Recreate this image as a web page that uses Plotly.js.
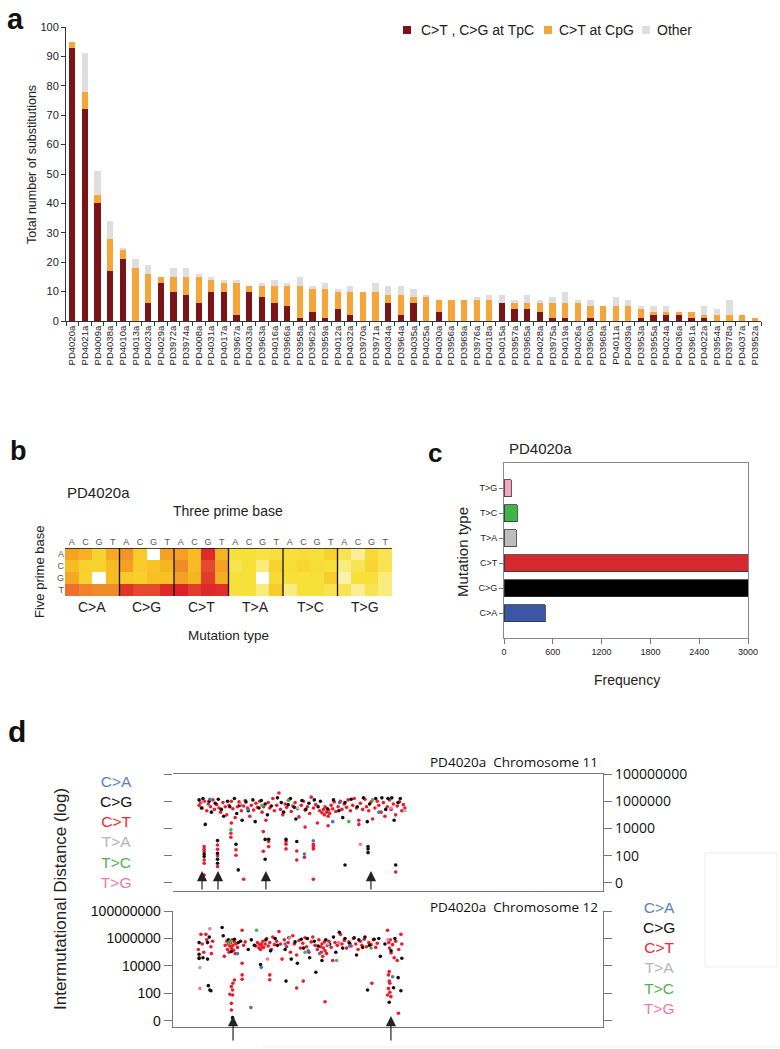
<!DOCTYPE html>
<html><head><meta charset="utf-8">
<script src="https://cdn.plot.ly/plotly-3.0.1.min.js"></script>
<style>html,body{margin:0;padding:0;background:#fff}#chart{width:780px;height:1049px}</style>
</head><body><div id="chart"></div>
<script>
// ---------- Panel a data ----------
const samples = ['PD4020a','PD4021a','PD4009a','PD4038a','PD4010a','PD4013a','PD4023a','PD4029a','PD3972a','PD3974a','PD4008a','PD4031a','PD4017a','PD3967a','PD4033a','PD3963a','PD4016a','PD3966a','PD3958a','PD3962a','PD3959a','PD4012a','PD4032a','PD3970a','PD3971a','PD4034a','PD3964a','PD4035a','PD4025a','PD4030a','PD3956a','PD3969a','PD3976a','PD4018a','PD4015a','PD3957a','PD3965a','PD4028a','PD3975a','PD4019a','PD4026a','PD3960a','PD3968a','PD4011a','PD4039a','PD3953a','PD3955a','PD4024a','PD4036a','PD3961a','PD4022a','PD3954a','PD3978a','PD4037a','PD3952a'];
const tpcCounts = [93,72,40,17,21,0,6,13,10,9,6,10,10,2,10,8,6,5,1,3,1,4,2,0,0,6,2,6,0,3,0,0,0,0,6,4,4,3,1,1,0,1,0,0,0,1,2,2,2,1,1,0,0,0,0];
const cpgCounts = [2,6,3,11,3,18,10,2,5,6,9,4,3,11,2,4,6,7,11,8,10,6,8,10,10,3,7,2,8,4,7,7,7,7,0,2,2,3,5,5,6,4,5,5,5,3,1,1,1,2,1,2,2,2,1];
const otherCounts = [0,13,8,6,1,3,3,0,3,3,1,1,1,1,0,1,2,1,3,1,2,1,2,0,3,3,3,3,1,0,0,0,1,2,3,1,3,1,2,4,1,2,0,3,2,1,2,2,0,0,3,2,5,0,0];
const seriesNames = ['C>T , C>G at TpC','C>T at CpG','Other'];

// ---------- Panel b data (rows: five prime base A,C,G,T; cols: 6 types x three prime A,C,G,T) ----------
const fivePrime = ['A','C','G','T'];
const threePrime = ['A','C','G','T'];
const mutTypes = ['C>A','C>G','C>T','T>A','T>C','T>G'];
const contextA = [0.58,0.5,0.3,0.55, 0.65,0.35,null,0.6, 0.6,0.45,0.97,0.48, 0.2,0.2,0.18,0.2, 0.2,0.22,0.2,0.3, 0.16,0.04,0.25,0.16];
const contextC = [0.45,0.32,0.3,0.45, 0.6,0.35,0.4,0.48, 0.68,0.45,0.88,0.6, 0.16,0.2,0.08,0.3, 0.22,0.27,0.22,0.2, 0.08,0.16,0.27,0.16];
const contextG = [0.55,0.3,null,0.45, 0.35,0.32,0.42,0.42, 0.6,0.48,0.92,0.52, 0.2,0.2,null,0.25, 0.2,0.2,0.2,0.33, 0.0,0.2,0.2,0.08];
const contextT = [0.78,0.72,0.68,0.68, 0.95,0.88,0.88,0.98, 1.0,0.92,0.98,0.96, 0.2,0.2,0.08,0.35, 0.07,0.2,0.2,0.16, 0.16,0.04,0.16,0.08];

// ---------- Panel c data ----------
const freqTypes = ['C>A','C>G','C>T','T>A','T>C','T>G'];
const freqValues = [505,3000,3000,148,164,90];
const typeColors = ['#3a56a5','#000000','#d42a2f','#bdbdbd','#3db54a','#f2a7c0'];

// ---------- Panel d data (x: position Mb, y: log10 intermutational distance) ----------
const dotColors = {'C>A':'#4a72bd','C>G':'#111111','C>T':'#ec1c2a','T>A':'#b0b0b0','T>C':'#4bae4f','T>G':'#ea7ca5'};
const legendColors = ['#5a7fc6','#111111','#ec2a30','#b5b5b5','#55b050','#ea7ca5'];

const chr11_CT_pos = [1,2,3,4.5,6,7,8.5,10,11,12.5,14,15,16.5,18,19,20.5,22,23,24.5,26,27,28.5,30,31,32.5,34,35,36.5,38,39,40.5,42,43,44.5,46,47,49,50,51.5,53,54,55.5,57,58,59.5,61,62,63.5,65,66,67.5,69,70,71.5,73,74,75.5,77,78,79.5,81,82,82.5,83,84,85,85.5,86,87,88,89,90,91.5,93,94,95.5,97,98,99.5,101,102,103.5,105,106,107.5,109,110,111.5,113,114,115.5,117,118,119.5,121,122,123.5,125,126,127.5,129,130,131.5,133,134,135,
 4.3,4.3,4.3,4.3,4.3,4.3,13,13,13,13,21.7,21.7,22,25,25,30,42.8,42.8,46.3,46.3,57.6,57.6,57.6,64.6,64.6,69.6,75.4,75.4,75.4,75.4,129,85,70,105];
const chr11_CT_dist = [5.7,5.9,5.5,6.0,5.3,5.8,5.6,6.1,5.4,5.75,5.5,5.2,5.9,5.6,5.0,5.7,6.0,5.45,4.8,5.6,5.95,5.3,5.65,6.05,5.5,4.9,5.7,5.35,5.85,5.55,6.0,5.2,5.6,4.6,5.9,5.5,6.2,5.3,5.7,6.6,5.4,5.0,5.8,5.55,6.1,5.25,5.65,5.9,5.45,4.85,5.7,6.0,5.35,5.6,5.1,6.3,5.5,5.75,4.4,5.3,5.15,5.4,5.0,5.6,5.2,4.9,5.35,5.1,5.7,5.45,5.95,5.25,5.6,6.0,5.4,5.8,5.55,6.1,5.3,5.7,6.2,5.5,4.6,5.85,5.4,6.15,5.6,5.3,5.95,4.7,5.5,6.0,5.7,5.2,5.9,4.9,5.6,6.1,5.4,5.8,5.0,5.65,5.95,5.3,5.75,5.5,
 2.67,2.48,2.3,1.69,1.45,0.59,2.79,2.48,1.99,1.2,3.65,3.36,4.4,2.43,2.03,0.27,3.77,2.33,3.04,2.67,3.04,2.84,2.5,2.35,1.69,1.89,2.84,2.67,2.5,0.27,0.81,4.2,4.1,4.3];
const chr11_CG_pos = [1,2.5,3.5,5,7.5,9,11.5,13.5,15.5,17,19.5,21,24,25.5,27.5,29,31.5,33,36,37.5,40,41.5,44,45.5,48,52,54.5,56,59,60.5,63,64,68,70.5,72.5,76,78.5,80,84.5,88.5,92,94.5,96,100,104,108,110.5,112,116,120,122.5,124,126.5,128,130.5,132,
 4.3,4.3,13,13,13,13,25,26.5,44,46.3,44,57.6,64.6,96,111,111,111,129];
const chr11_CG_dist = [6.1,5.5,6.2,4.3,6.0,5.2,5.85,6.15,5.4,4.9,6.0,5.6,6.2,5.1,5.7,4.6,5.95,5.3,6.1,4.5,5.5,6.05,5.8,5.0,5.65,6.25,5.9,5.2,5.75,6.2,5.55,4.7,6.05,5.4,5.85,6.1,5.6,6.0,5.45,6.1,5.3,4.8,5.9,6.15,5.6,6.25,4.5,5.8,6.2,6.25,5.4,6.2,6.25,4.6,5.9,6.2,
 2.13,1.94,3.11,2.18,1.74,1.45,2.84,0.96,1.74,3.21,3.2,3.2,3.04,1.32,2.67,2.5,2.23,1.32];
const chr11_CA_pos = [8,33,69.6,75.4,88,92.5,118];
const chr11_CA_dist = [6.15,5.4,2.13,3.1,4.5,5.9,5.2];
const chr11_TA_pos = [65,135];
const chr11_TA_dist = [5.5,5.3];
const chr11_TC_pos = [21.7,42,59,98.5,114];
const chr11_TC_dist = [3.9,5.7,6.05,4.5,6.1];
const chr11_TG_pos = [106,3,28,126];
const chr11_TG_dist = [2.84,5.95,5.8,5.5];

const chr12_CT_pos = [0.5,1,2.2,3,4,5.4,6,8.7,9.8,9,17.4,18,19,19.5,20,20.5,21,21.5,22,22.5,23,23.5,24,24.5,25,26,29,29,30,31,38,39,40,40.5,41,41.5,42,42.5,43,44,45,46,47,48,49,50,51.5,53,54,55,56.5,58,59,60.5,62,63,64.5,66,67,68.5,70,71,72.5,74,75,76.5,78,79,80,80.5,81,81.5,82,82.5,83,84,84.5,85.5,87,88,89.5,91,93,94,95.5,97,98.5,100,101.5,103,104.5,106,107,108.5,110,111.5,113,114.5,116,117,123.7,124.5,125,125.5,126,127,128,129,130,131,132.4,133,
 24,23,22,22.8,21,22.8,22,22,29,29,47,47,64.5,68.8,83,113.5,124.8,124.3,124.8,125.2,124.3,125.2,123.7,125.9,130.8];
const chr12_CT_dist = [5.2,4.6,6.3,5.6,5.0,6.3,5.9,5.4,5.8,4.9,4.7,5.5,5.8,5.2,5.6,5.0,5.45,5.7,5.3,5.9,5.5,5.15,5.75,4.9,5.6,5.35,6.6,4.2,5.5,5.75,5.45,5.7,5.3,5.55,5.2,5.6,5.4,5.8,5.35,5.6,6.0,5.45,5.7,5.2,6.1,5.55,5.8,6.5,5.6,4.5,5.9,5.4,5.7,5.0,6.2,5.6,4.8,5.85,5.3,5.65,6.05,5.4,5.0,5.75,6.1,5.5,5.2,5.9,5.4,5.0,5.6,4.7,5.3,5.75,5.1,4.9,5.5,5.8,5.35,4.4,5.7,5.5,6.3,5.6,5.85,5.3,5.75,5.45,6.0,5.6,5.2,5.8,5.5,5.95,5.4,5.7,5.55,5.9,5.35,5.65,6.6,5.7,5.3,5.9,4.95,5.55,4.6,5.8,4.4,5.2,6.3,5.6,
 2.98,2.74,2.5,2.25,1.94,1.89,1.28,0.8,3.35,3.03,3.35,3.0,2.4,2.9,1.4,2.74,3.59,3.35,2.9,2.74,2.37,2.08,1.89,1.77,0.56];
const chr12_CG_pos = [1,1,1,6.5,6.5,7.6,7,8,8.7,3.5,16,16.7,20,22,24,26.5,28,33,35,37,41,44.5,47.5,50.5,52,57.6,57,59.5,61,63.5,65,67.5,69,71.5,73,76,77,78.5,81,83.5,86,88.5,90,92.3,94.5,96,99,102,103.5,105,107.5,109,110.7,112,115,118,119,124.8,127.6,130.6,132.4,133,126,128.5,122,22.8];
const chr12_CG_dist = [5.7,4.85,4.55,5.7,4.5,6.1,2.57,2.25,2.2,4.6,6.8,6.2,5.9,5.05,5.95,5.7,5.8,5.2,5.9,5.5,4.1,5.9,5.1,6.0,5.5,2.9,5.2,6.05,4.5,5.75,4.2,5.95,5.3,6.0,4.6,5.8,3.54,5.45,4.4,5.9,5.6,6.1,5.0,6.45,5.3,6.0,5.65,6.05,4.8,5.9,5.35,6.1,2.25,5.5,5.95,6.0,4.7,1.36,2.42,3.15,2.2,4.56,5.1,6.0,5.6,0.24];
const chr12_CA_pos = [34.7,26,57,72,79.5,99,127,41.5];
const chr12_CA_dist = [0.97,4.9,5.6,5.1,4.9,5.45,3.22,3.9];
const chr12_TA_pos = [1.5,85];
const chr12_TA_dist = [3.88,5.6];
const chr12_TC_pos = [38.4,20.5,21.5,70,90.5,113];
const chr12_TC_dist = [6.6,5.65,5.8,5.0,4.4,5.3];
const chr12_TG_pos = [1.5,8,60,92,124,45.5];
const chr12_TG_dist = [2.37,6.7,6.05,5.7,5.9,4.5];

const kataegisChr11 = [2.9,13.3,44.5,112.9];
const kataegisChr12 = [23.1,125.9];
const distTickVals = [0,2,4,6,8];
const distTickText = ['0','100','10000','1000000','100000000'];

// ---------- helpers ----------
const W = 780, H = 1049;
const fx = p => p / W;
const fy = p => 1 - p / H;
const FONT = 'Liberation Sans, Arial, sans-serif';
const TITLEFONT = 'Open Sans, Liberation Sans, sans-serif';

const traces = [];
// Panel a bars
const barColors = ['#7a1416','#f5a53a','#dedede'];
[tpcCounts, cpgCounts, otherCounts].forEach((vals, i) => {
  traces.push({type:'bar', x:samples, y:vals, name:seriesNames[i], width:0.5,
    marker:{color:barColors[i]}, xaxis:'x', yaxis:'y', showlegend:false});
});

// Panel b heatmap
const hx = [], hxt = [];
for (let g = 0; g < 6; g++) for (let b = 0; b < 4; b++) { hx.push(g*4+b); hxt.push(threePrime[b]); }
traces.push({type:'heatmap', x:hx, y:[0,1,2,3], z:[contextA, contextC, contextG, contextT],
  zmin:0, zmax:1, showscale:false, xaxis:'x2', yaxis:'y2', hoverongaps:false,
  colorscale:[[0,'#fbf2b0'],[0.1,'#f9ea70'],[0.2,'#f8e03a'],[0.4,'#f8c424'],[0.6,'#f3a024'],[0.75,'#ee7a2c'],[0.9,'#e4432f'],[1,'#dc2228']]});

// Panel c bars
traces.push({type:'bar', orientation:'h', y:freqTypes, x:freqValues, width:0.68,
  marker:{color:typeColors, line:{color:'#333', width:0.8}}, xaxis:'x3', yaxis:'y3', showlegend:false, cliponaxis:true});

// Panel d scatter
function addDots(pos, dist, type, xa, ya) {
  traces.push({type:'scatter', mode:'markers', x:pos, y:dist, name:type, xaxis:xa, yaxis:ya,
    marker:{color:dotColors[type], size:3.6}, showlegend:false, cliponaxis:false});
}
addDots(chr11_CT_pos, chr11_CT_dist, 'C>T', 'x4', 'y4');
addDots(chr11_CG_pos, chr11_CG_dist, 'C>G', 'x4', 'y4');
addDots(chr11_CA_pos, chr11_CA_dist, 'C>A', 'x4', 'y4');
addDots(chr11_TA_pos, chr11_TA_dist, 'T>A', 'x4', 'y4');
addDots(chr11_TC_pos, chr11_TC_dist, 'T>C', 'x4', 'y4');
addDots(chr11_TG_pos, chr11_TG_dist, 'T>G', 'x4', 'y4');
addDots(chr12_CT_pos, chr12_CT_dist, 'C>T', 'x6', 'y6');
addDots(chr12_CG_pos, chr12_CG_dist, 'C>G', 'x6', 'y6');
addDots(chr12_CA_pos, chr12_CA_dist, 'C>A', 'x6', 'y6');
addDots(chr12_TA_pos, chr12_TA_dist, 'T>A', 'x6', 'y6');
addDots(chr12_TC_pos, chr12_TC_dist, 'T>C', 'x6', 'y6');
addDots(chr12_TG_pos, chr12_TG_dist, 'T>G', 'x6', 'y6');

// ---------- annotations ----------
const annotations = [];
function ann(text, x, y, o) {
  annotations.push(Object.assign({text:text, x:fx(x), y:fy(y), xref:'paper', yref:'paper',
    showarrow:false, xanchor:'center', yanchor:'middle', font:{family:FONT, size:14, color:'#222'}}, o || {}));
}
// panel labels
ann('<b>a</b>', 15, 19, {font:{family:FONT, size:29, color:'#111'}});
ann('<b>b</b>', 18, 451, {font:{family:FONT, size:27, color:'#111'}});
ann('<b>c</b>', 435, 453, {font:{family:FONT, size:26, color:'#111'}});
ann('<b>d</b>', 17, 731, {font:{family:FONT, size:30, color:'#111'}});

// panel a
ann('Total number of substitutions', 32, 165, {textangle:-90, font:{family:FONT, size:12.5, color:'#222'}});
const legX = [419, 557, 655];
seriesNames.forEach((n, i) => ann(n, legX[i], 30, {xanchor:'left', font:{family:FONT, size:14, color:'#222'}}));

// panel b
ann('PD4020a', 65, 493, {xanchor:'left', font:{family:FONT, size:15, color:'#222'}});
ann('Three prime base', 228, 511, {font:{family:FONT, size:14, color:'#222'}});
ann('Five prime base', 39, 572, {textangle:-90, font:{family:FONT, size:13, color:'#222'}});
mutTypes.forEach((t, g) => annotations.push({text:t, x:g*4+1.5, y:fy(607), xref:'x2', yref:'paper',
  showarrow:false, xanchor:'center', yanchor:'middle', font:{family:FONT, size:14, color:'#222'}}));
ann('Mutation type', 228, 635, {font:{family:FONT, size:13.5, color:'#222'}});

// panel c
ann('PD4020a', 507, 449, {xanchor:'left', font:{family:FONT, size:15, color:'#222'}});
ann('Mutation type', 463, 552, {textangle:-90, font:{family:FONT, size:15, color:'#222'}});
ann('Frequency', 627, 680, {font:{family:FONT, size:14, color:'#222'}});

// panel d
ann('PD4020a  Chromosome 11', 600, 762, {xanchor:'right', font:{family:TITLEFONT, size:13.5, color:'#111'}});
ann('PD4020a  Chromosome 12', 600, 907, {xanchor:'right', font:{family:TITLEFONT, size:13.5, color:'#111'}});
ann('Intermutational Distance (log)', 60, 899, {textangle:-90, font:{family:FONT, size:17, color:'#222'}});
// type legends: one multi-line text each, coloured per line
const legendText = mutTypes.map((t, i) => '<span style="color:' + legendColors[i] + '">' + t.replace('>', '&gt;') + '</span>').join('<br>');
ann(legendText, 116, 832, {font:{family:FONT, size:15.5, color:'#222'}});
ann(legendText, 659, 958, {font:{family:FONT, size:15.5, color:'#222'}});
// kataegis arrows
kataegisChr11.forEach(x => annotations.push({text:'', x:x, y:0.88, ax:x, ay:-0.59, xref:'x4', yref:'y4', axref:'x4', ayref:'y4',
  showarrow:true, arrowhead:2, arrowsize:1.7, arrowwidth:1.2, arrowcolor:'#222'}));
kataegisChr12.forEach(x => annotations.push({text:'', x:x, y:0.36, ax:x, ay:-1.53, xref:'x6', yref:'y6', axref:'x6', ayref:'y6',
  showarrow:true, arrowhead:2, arrowsize:1.7, arrowwidth:1.2, arrowcolor:'#222'}));

// ---------- shapes ----------
const shapes = [];
const legSq = [403, 544, 642];
barColors.forEach((c, i) => shapes.push({type:'rect', xref:'paper', yref:'paper',
  x0:fx(legSq[i]), x1:fx(legSq[i]+8), y0:fy(34), y1:fy(26), fillcolor:c, line:{width:0}}));
[3.5, 7.5, 11.5, 15.5, 19.5].forEach(x => shapes.push({type:'line', xref:'x2', yref:'y2', x0:x, x1:x, y0:-0.5, y1:3.5, line:{color:'#111', width:1.3}}));
shapes.push({type:'line', xref:'x2', yref:'y2', x0:-0.5, x1:23.5, y0:-0.5, y1:-0.5, line:{color:'#111', width:1.3}});
shapes.push({type:'rect', xref:'paper', yref:'paper', x0:fx(705), x1:fx(777), y0:fy(967), y1:fy(853), line:{color:'#eeeeee', width:1}});
shapes.push({type:'line', xref:'paper', yref:'paper', x0:fx(262), x1:fx(780), y0:fy(1047), y1:fy(1047), line:{color:'#eeeeee', width:1}});

// ---------- layout ----------
const noGrid = {showgrid:false, zeroline:false};
const layout = {
  width:W, height:H, margin:{l:0, r:0, t:0, b:0}, paper_bgcolor:'#fff', plot_bgcolor:'rgba(0,0,0,0)',
  showlegend:false, barmode:'stack', font:{family:FONT, size:12, color:'#222'},
  xaxis:Object.assign({domain:[fx(66), fx(761)], anchor:'y', type:'category', tickangle:-90, ticks:'outside', tickson:'boundaries',
    ticklen:4, tickcolor:'#333', showline:true, linecolor:'#333', linewidth:1, tickfont:{family:FONT, size:9.5, color:'#222'}}, noGrid),
  yaxis:Object.assign({domain:[fy(321), fy(27)], anchor:'x', range:[0,100], dtick:10, ticks:'outside', ticklen:4, tickcolor:'#333',
    showline:true, linecolor:'#333', linewidth:1, tickfont:{family:FONT, size:11, color:'#222'}}, noGrid),
  xaxis2:Object.assign({domain:[fx(65), fx(392)], anchor:'y2', range:[-0.5, 23.5], side:'top', tickvals:hx, ticktext:hxt,
    ticks:'', tickfont:{family:FONT, size:9, color:'#555'}, showline:false}, noGrid),
  yaxis2:Object.assign({domain:[fy(596), fy(548)], anchor:'x2', range:[3.5, -0.5], tickvals:[0,1,2,3], ticktext:fivePrime,
    ticks:'', tickfont:{family:FONT, size:9, color:'#555'}, showline:false}, noGrid),
  xaxis3:Object.assign({domain:[fx(504), fx(748)], anchor:'y3', range:[0, 3000], tickvals:[0,600,1200,1800,2400,3000],
    ticks:'outside', ticklen:5, tickcolor:'#777', showline:true, mirror:true, linecolor:'#888', linewidth:1,
    tickfont:{family:FONT, size:9, color:'#222'}}, noGrid),
  yaxis3:Object.assign({domain:[fy(638), fy(463)], anchor:'x3', type:'category', categoryorder:'array', categoryarray:freqTypes,
    range:[-1, 6], ticks:'outside', ticklen:4, tickcolor:'#777', showline:true, mirror:true, linecolor:'#888', linewidth:1,
    tickfont:{family:FONT, size:9, color:'#222'}}, noGrid),
  xaxis4:Object.assign({domain:[fx(173), fx(603)], anchor:'y4', range:[-16, 264], showline:true, mirror:true, linecolor:'#777',
    linewidth:1.3, ticks:'', showticklabels:false}, noGrid),
  yaxis4:Object.assign({domain:[fy(891), fy(774)], anchor:'x4', range:[-0.59, 8], tickvals:distTickVals, ticks:'outside', ticklen:8,
    tickcolor:'#777', showticklabels:false, showline:false}, noGrid),
  yaxis5:Object.assign({overlaying:'y4', anchor:'x4', side:'right', range:[-0.59, 8], tickvals:distTickVals, ticktext:distTickText,
    ticks:'outside', ticklen:8, tickcolor:'#777', showline:true, linecolor:'#777', linewidth:1.3,
    tickfont:{family:TITLEFONT, size:14, color:'#111'}}, noGrid),
  xaxis6:Object.assign({domain:[fx(173), fx(603)], anchor:'y6', range:[-16, 264], showline:true, linecolor:'#777', linewidth:1.3,
    ticks:'', showticklabels:false}, noGrid),
  yaxis6:Object.assign({domain:[fy(1027), fy(911)], anchor:'x6', range:[-0.44, 8], tickvals:distTickVals, ticktext:distTickText,
    ticks:'outside', ticklen:8, tickcolor:'#777', showline:true, linecolor:'#777', linewidth:1.3,
    tickfont:{family:FONT, size:14, color:'#111'}}, noGrid),
  yaxis7:Object.assign({overlaying:'y6', anchor:'x6', side:'right', range:[-0.44, 8], tickvals:distTickVals, ticks:'outside', ticklen:8,
    tickcolor:'#777', showticklabels:false, showline:true, linecolor:'#777', linewidth:1.3}, noGrid),
  annotations:annotations, shapes:shapes
};
// empty traces to activate the overlaying right-hand axes
traces.push({type:'scatter', mode:'markers', x:[], y:[], xaxis:'x4', yaxis:'y5', showlegend:false, hoverinfo:'skip'});
traces.push({type:'scatter', mode:'markers', x:[], y:[], xaxis:'x6', yaxis:'y7', showlegend:false, hoverinfo:'skip'});

Plotly.newPlot('chart', traces, layout, {staticPlot:true, displayModeBar:false});
</script></body></html>
